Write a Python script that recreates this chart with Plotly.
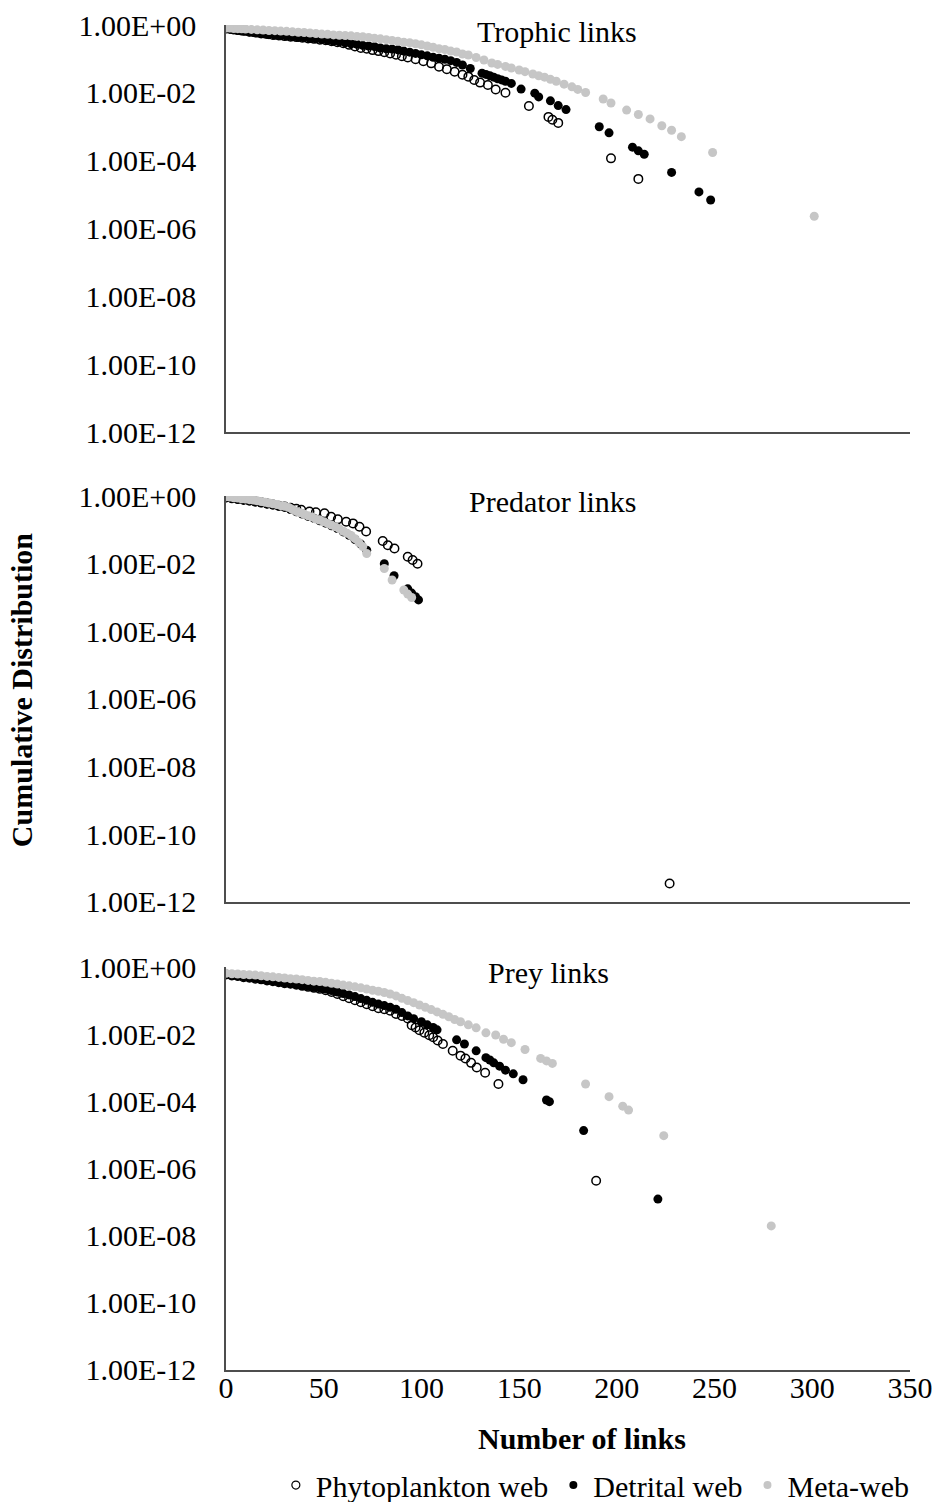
import plotly.graph_objects as go

# ---------------- data: cumulative degree distributions ----------------
# Trophic links
troph_phyto_x = [0, 3, 6, 9, 12, 15, 18, 21, 24, 27, 30, 33, 36, 39, 42, 45, 48, 51, 54, 57,
                 60, 63, 66, 69, 72, 75, 78, 81, 84, 87, 90, 93, 97, 101, 105, 109, 113, 117,
                 121, 124, 127, 130, 134, 138, 143, 155, 165, 167, 170, 197, 211]
troph_phyto_y = [0.81, 0.76, 0.71, 0.68, 0.63, 0.60, 0.56, 0.54, 0.51, 0.49, 0.47, 0.45, 0.44,
                 0.42, 0.40, 0.39, 0.37, 0.355, 0.33, 0.31, 0.29, 0.26, 0.234, 0.21, 0.20, 0.182,
                 0.17, 0.158, 0.145, 0.132, 0.12, 0.11, 0.098, 0.085, 0.074, 0.059, 0.050, 0.042,
                 0.034, 0.030, 0.024, 0.020, 0.017, 0.0126, 0.0100, 4.1e-3, 1.95e-3, 1.6e-3,
                 1.3e-3, 1.17e-4, 2.9e-5]

troph_detr_x = [0, 2, 4, 6, 8, 10, 12, 14, 16, 18, 20, 22, 25, 28, 31, 34, 37, 40, 43, 46, 49,
                52, 55, 58, 61, 64, 67, 70, 73, 76, 79, 82, 85, 88, 91, 94, 97, 100, 103, 106,
                109, 112, 115, 118, 121, 125, 131, 133, 135, 137, 139, 141, 143, 146, 151, 158,
                160, 166, 170, 174, 191, 196, 208, 211, 214, 228, 242, 248]
troph_detr_y = [0.76, 0.74, 0.71, 0.69, 0.66, 0.65, 0.62, 0.60, 0.58, 0.56, 0.54, 0.52, 0.50,
                0.48, 0.47, 0.45, 0.43, 0.42, 0.40, 0.39, 0.37, 0.35, 0.33, 0.32, 0.30, 0.28,
                0.27, 0.25, 0.24, 0.23, 0.21, 0.20, 0.195, 0.186, 0.17, 0.158, 0.145, 0.132,
                0.123, 0.112, 0.105, 0.098, 0.089, 0.079, 0.066, 0.052, 0.038, 0.035, 0.032,
                0.029, 0.026, 0.024, 0.022, 0.019, 0.0129, 9.8e-3, 7.6e-3, 5.8e-3, 4.2e-3,
                3.2e-3, 1.0e-3, 6.6e-4, 2.5e-4, 1.95e-4, 1.55e-4, 4.5e-5, 1.2e-5, 6.9e-6]

troph_meta_x = [0, 2, 4, 6, 8, 10, 13, 16, 19, 22, 25, 28, 31, 34, 37, 40, 43, 46, 49, 52, 55,
                58, 61, 64, 67, 70, 73, 76, 79, 82, 85, 88, 91, 94, 97, 100, 103, 106, 109, 112,
                115, 118, 121, 124, 128, 132, 136, 139, 143, 146, 150, 153, 157, 160, 163, 166,
                169, 173, 177, 180, 184, 193, 197, 205, 211, 217, 223, 228, 233, 249, 301]
troph_meta_y = [0.81, 0.81, 0.79, 0.78, 0.77, 0.76, 0.74, 0.72, 0.71, 0.69, 0.68, 0.66, 0.65,
                0.63, 0.61, 0.60, 0.58, 0.56, 0.54, 0.53, 0.51, 0.50, 0.49, 0.48, 0.46, 0.45,
                0.43, 0.41, 0.39, 0.37, 0.35, 0.33, 0.31, 0.30, 0.28, 0.26, 0.24, 0.22, 0.20,
                0.19, 0.17, 0.16, 0.14, 0.13, 0.11, 0.093, 0.076, 0.069, 0.060, 0.054, 0.047,
                0.042, 0.036, 0.032, 0.029, 0.025, 0.022, 0.018, 0.015, 0.0126, 0.0102, 6.6e-3,
                5.0e-3, 3.1e-3, 2.3e-3, 1.7e-3, 1.07e-3, 7.9e-4, 5.1e-4, 1.74e-4, 2.3e-6]

# Predator links
pred_phyto_x = [0, 3, 6, 9, 12, 15, 18, 21, 24, 27, 30, 33, 36, 38.5, 42.7, 46, 50.4, 53.8,
                57.2, 61.5, 65, 68.3, 71.7, 80.2, 82.8, 86.2, 93, 95.5, 98, 227]
pred_phyto_y = [0.91, 0.87, 0.83, 0.79, 0.74, 0.69, 0.65, 0.60, 0.56, 0.52, 0.49, 0.45, 0.42,
                0.39, 0.35, 0.33, 0.31, 0.245, 0.204, 0.174, 0.155, 0.123, 0.089, 0.047, 0.035,
                0.028, 0.016, 0.0129, 0.010, 3.5e-12]

pred_detr_x = [0, 3, 6, 9, 12, 15, 18, 21, 24, 27, 30, 33, 36, 39, 42, 45, 48, 51, 54, 57, 60,
               63, 66, 69, 72, 81, 86, 93, 95, 97, 98.5]
pred_detr_y = [0.89, 0.83, 0.79, 0.74, 0.71, 0.66, 0.62, 0.575, 0.54, 0.50, 0.46, 0.40, 0.34,
               0.295, 0.25, 0.22, 0.186, 0.158, 0.132, 0.11, 0.087, 0.069, 0.052, 0.038, 0.025,
               0.010, 4.4e-3, 1.8e-3, 1.35e-3, 1.05e-3, 8.5e-4]

pred_meta_x = [0, 2, 4, 6, 8, 10, 12, 14, 16, 18, 20, 22, 24, 26, 28, 30, 32, 34, 36, 38, 40,
               42, 44, 46, 48, 50, 52, 54, 56, 58, 60, 62, 64, 66, 68, 70, 72, 81, 85, 91, 93, 95]
pred_meta_y = [0.95, 0.93, 0.89, 0.87, 0.83, 0.81, 0.78, 0.76, 0.72, 0.69, 0.65, 0.62, 0.59,
               0.56, 0.52, 0.50, 0.46, 0.40, 0.35, 0.32, 0.29, 0.26, 0.24, 0.21, 0.195, 0.174,
               0.155, 0.138, 0.123, 0.107, 0.091, 0.079, 0.068, 0.055, 0.042, 0.032, 0.020,
               7.2e-3, 3.3e-3, 1.66e-3, 1.26e-3, 1.0e-3]

# Prey links
prey_phyto_x = [0, 3, 6, 9, 12, 15, 18, 21, 24, 27, 30, 33, 36, 39, 42, 45, 48, 51, 54, 57, 60,
                63, 66, 69, 72, 75, 78, 81, 84, 87, 90, 93, 95, 97, 99, 101.5, 104, 106, 108.3,
                111, 116, 120, 122.5, 125.4, 128.3, 132.6, 139.4, 189.4]
prey_phyto_y = [0.60, 0.56, 0.54, 0.50, 0.48, 0.45, 0.43, 0.40, 0.38, 0.355, 0.33, 0.32, 0.295,
                0.275, 0.257, 0.24, 0.224, 0.204, 0.182, 0.158, 0.135, 0.117, 0.102, 0.089,
                0.078, 0.068, 0.059, 0.055, 0.050, 0.040, 0.035, 0.0295, 0.0186, 0.0158, 0.0132,
                0.011, 9.3e-3, 8.1e-3, 6.5e-3, 5.1e-3, 3.2e-3, 2.3e-3, 1.9e-3, 1.4e-3, 1.02e-3,
                7.1e-4, 3.3e-4, 4.3e-7]

prey_detr_x = [0, 3, 6, 9, 12, 15, 18, 21, 24, 27, 30, 33, 36, 39, 42, 45, 48, 51, 54, 57, 60,
               63, 66, 69, 72, 75, 78, 81, 84, 87, 90, 93, 96, 100, 103, 106, 108, 118, 122, 128,
               133, 135, 137, 140, 143, 147, 152, 164, 165.5, 183, 221]
prey_detr_y = [0.60, 0.575, 0.54, 0.51, 0.49, 0.46, 0.44, 0.41, 0.39, 0.36, 0.34, 0.32, 0.30,
               0.28, 0.27, 0.25, 0.24, 0.22, 0.20, 0.18, 0.162, 0.148, 0.132, 0.115, 0.102,
               0.089, 0.079, 0.071, 0.063, 0.055, 0.044, 0.035, 0.029, 0.0234, 0.019, 0.0158,
               0.0135, 6.8e-3, 5.1e-3, 3.2e-3, 2.0e-3, 1.7e-3, 1.4e-3, 1.12e-3, 8.5e-4, 6.6e-4,
               4.4e-4, 1.1e-4, 9.8e-5, 1.35e-5, 1.23e-7]

prey_meta_x = [0, 3, 6, 9, 12, 15, 18, 21, 24, 27, 30, 33, 36, 39, 42, 45, 48, 51, 54, 57, 60,
               63, 66, 69, 72, 75, 78, 81, 84, 87, 90, 93, 96, 99, 102, 105, 108, 111, 114, 117,
               120, 124, 128, 133, 138, 142, 146, 153, 161, 164, 167, 184, 196, 203, 206, 224,
               279]
prey_meta_y = [0.65, 0.63, 0.62, 0.60, 0.59, 0.575, 0.55, 0.525, 0.51, 0.49, 0.47, 0.45, 0.44,
               0.42, 0.40, 0.38, 0.37, 0.35, 0.33, 0.31, 0.29, 0.275, 0.257, 0.24, 0.22, 0.204,
               0.19, 0.174, 0.158, 0.138, 0.117, 0.100, 0.087, 0.074, 0.063, 0.054, 0.046,
               0.039, 0.033, 0.0275, 0.0234, 0.019, 0.0155, 0.011, 9.5e-3, 7.1e-3, 5.6e-3,
               3.5e-3, 1.9e-3, 1.6e-3, 1.35e-3, 3.3e-4, 1.38e-4, 7.2e-5, 5.5e-5, 9.5e-6, 1.95e-8]

panel_titles = ["Trophic links", "Predator links", "Prey links"]
series_names = ["Phytoplankton web", "Detrital web", "Meta-web"]
y_tick_vals = [1, 1e-2, 1e-4, 1e-6, 1e-8, 1e-10, 1e-12]
y_tick_text = ["1.00E+00", "1.00E-02", "1.00E-04", "1.00E-06", "1.00E-08", "1.00E-10", "1.00E-12"]
x_tick_vals = [0, 50, 100, 150, 200, 250, 300, 350]

# ---------------- figure ----------------
FONT = "Liberation Serif"
FS = 30
AXIS_COLOR = "#4d4d4d"
GRAY = "#c6c6c6"

series_styles = [
    dict(symbol="circle-open", color="black", line=dict(width=1.5, color="black")),
    dict(symbol="circle", color="black"),
    dict(symbol="circle", color=GRAY),
]

panels = [
    (troph_phyto_x, troph_phyto_y, troph_detr_x, troph_detr_y, troph_meta_x, troph_meta_y),
    (pred_phyto_x, pred_phyto_y, pred_detr_x, pred_detr_y, pred_meta_x, pred_meta_y),
    (prey_phyto_x, prey_phyto_y, prey_detr_x, prey_detr_y, prey_meta_x, prey_meta_y),
]

fig = go.Figure()
for i, (px, py, dx, dy, mx, my) in enumerate(panels):
    ax = "" if i == 0 else str(i + 1)
    for name, xs, ys, style in zip(series_names, (px, dx, mx), (py, dy, my), series_styles):
        fig.add_trace(go.Scatter(
            x=xs, y=ys, mode="markers", name=name, showlegend=False,
            xaxis="x" + ax, yaxis="y" + ax,
            marker=dict(size=9 if style["symbol"] == "circle" else 8.5, **style)))

# legend entries (small symbols, no data of their own)
for name, style in zip(series_names, series_styles):
    st = dict(style)
    if "line" in st:
        st["line"] = dict(width=1.2, color="black")
    fig.add_trace(go.Scatter(x=[None], y=[None], mode="markers", name=name,
                             marker=dict(size=8, **st), showlegend=True))

# vertical layout of the three panels (paper fractions)
domains = [[0.6974, 1.0], [0.348, 0.6498], [0.0, 0.2996]]

layout = dict(
    width=947, height=1502,
    margin=dict(l=226, r=37, t=25, b=132, autoexpand=False),
    paper_bgcolor="white", plot_bgcolor="white",
    font=dict(family=FONT, size=FS, color="black"),
    showlegend=True,
    legend=dict(orientation="h", xref="paper", x=0.54, xanchor="center",
                yref="container", y=0.0113, yanchor="middle",
                font=dict(family=FONT, size=FS), itemsizing="trace", traceorder="normal",
                bgcolor="rgba(0,0,0,0)"),
)

for i in range(3):
    ax = "" if i == 0 else str(i + 1)
    layout["xaxis" + ax] = dict(
        domain=[0, 1], range=[0, 350], anchor="y" + ax,
        showline=True, linecolor=AXIS_COLOR, linewidth=1.5, showgrid=False, zeroline=False,
        ticks="", tickvals=x_tick_vals, showticklabels=(i == 2),
        tickfont=dict(family=FONT, size=FS), ticklabelstandoff=-10,
    )
    layout["yaxis" + ax] = dict(
        domain=domains[i], type="log", range=[-12, 0], anchor="x" + ax,
        showline=True, linecolor=AXIS_COLOR, linewidth=1.5, showgrid=False, zeroline=False,
        ticks="", tickvals=y_tick_vals, ticktext=y_tick_text,
        tickfont=dict(family=FONT, size=FS), ticklabelstandoff=22,
    )

fig.update_layout(**layout)

# panel titles inside each plot area
title_pos = [(0.484, 0.9948), (0.478, 0.6454), (0.472, 0.2952)]
for text, (tx, ty) in zip(panel_titles, title_pos):
    fig.add_annotation(text=text, x=tx, y=ty, xref="paper", yref="paper",
                       showarrow=False, xanchor="center", yanchor="middle",
                       font=dict(family=FONT, size=FS))

# shared axis titles
fig.add_annotation(text="<b>Number of links</b>", x=0.52, y=-0.0506, xref="paper", yref="paper",
                   showarrow=False, xanchor="center", yanchor="middle",
                   font=dict(family=FONT, size=FS))
fig.add_annotation(text="<b>Cumulative Distribution</b>", x=-0.298, y=0.5056, xref="paper",
                   yref="paper", showarrow=False, textangle=-90, xanchor="center",
                   yanchor="middle", font=dict(family=FONT, size=FS))

fig.write_html("out.html")
